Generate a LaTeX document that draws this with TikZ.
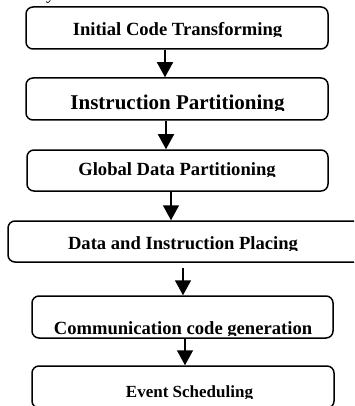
\documentclass[tikz,border=0pt]{standalone}
\usepackage{fontspec}
\setmainfont{Liberation Serif}
\usetikzlibrary{arrows.meta}
\begin{document}
\begin{tikzpicture}[x=1pt, y=-1pt,
  stage/.style={draw, line width=1.5pt, rounded corners=7pt, inner sep=0pt, minimum height=42pt},
  lbl/.style={anchor=base, inner sep=0pt, font=\bfseries\fontsize{18.6}{20}\selectfont},
  flow/.style={line width=1.5pt, -{Triangle[length=15pt,width=16pt]}}]
\clip (0,0) rectangle (354,406);

% tail of a caption letter above the chart
\node[anchor=base west, inner sep=0pt, font=\fontsize{18}{20}\selectfont] (ytail) at (46,0) {y};

% stage boxes
\node[stage, minimum width=302pt] (b1) at (177,28) {};
\node[stage, minimum width=302pt] (b2) at (177,99) {};
\node[stage, minimum width=301pt, minimum height=41pt] (b3) at (177.5,170.5) {};
\node[stage, minimum width=354pt, minimum height=41pt] (b4) at (185,241.5) {};
\node[stage, minimum width=301pt] (b5) at (182.5,317) {};
\node[stage, minimum width=302pt] (b6) at (183,387) {};

% labels, cut off at the baseline
\begin{scope}
  \clip (26,7) rectangle (328,37);
  \node[lbl] (t1) at (177.5,36) {Initial Code Transforming};
\end{scope}
\begin{scope}
  \clip (26,78) rectangle (328,111);
  \node[lbl, font=\bfseries\fontsize{21}{23}\selectfont] (t2) at (177.5,110) {Instruction Partitioning};
\end{scope}
\begin{scope}
  \clip (27,150) rectangle (328,176.5);
  \node[lbl] (t3) at (177,175.5) {Global Data Partitioning};
\end{scope}
\begin{scope}
  \clip (8,221) rectangle (354,250);
  \node[lbl] (t4) at (183,249) {Data and Instruction Placing};
\end{scope}
\begin{scope}
  \clip (32,296) rectangle (333,335);
  \node[lbl] (t5) at (183,334) {Communication code generation};
\end{scope}
\begin{scope}
  \clip (32,366) rectangle (334,398);
  \node[lbl, font=\bfseries\fontsize{17}{19}\selectfont] (t6) at (189.5,397) {Event Scheduling};
\end{scope}

% flow between stages
\draw[flow] ([xshift=-12pt]b1.south) -- ([xshift=-12pt]b2.north);
\draw[flow] ([xshift=-11pt]b2.south) -- ([xshift=-11.5pt]b3.north);
\draw[flow] ([xshift=-6.5pt]b3.south) -- ([xshift=-14pt]b4.north);
\draw[flow, shorten <=5pt] ([xshift=-2pt]b4.south) -- ([xshift=0.5pt]b5.north);
\draw[flow] ([xshift=2.5pt]b5.south) -- ([xshift=2pt]b6.north);
\end{tikzpicture}
\end{document}
